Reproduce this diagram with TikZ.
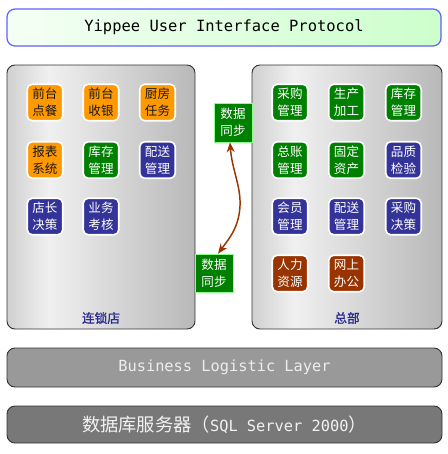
\documentclass[tikz,border=0pt]{standalone}
\usepackage{fontspec}
\usetikzlibrary{arrows.meta}
\newfontfamily\cjk{Noto Sans CJK SC}
\newfontfamily\cjkb[FakeBold=1.2]{Noto Sans CJK SC}
\newfontfamily\monof{DejaVu Sans Mono}
\definecolor{torange}{HTML}{FF9900}
\definecolor{tgreen}{HTML}{008000}
\definecolor{tblue}{HTML}{333399}
\definecolor{tbrown}{HTML}{993300}
\definecolor{pA}{HTML}{D0D0D0}
\definecolor{pB}{HTML}{F0F0F0}
\definecolor{pC}{HTML}{B8B8B8}
\definecolor{titleborder}{HTML}{6060FF}
\definecolor{labelblue}{HTML}{2B2B8F}
\pgfdeclarehorizontalshading{panelshade}{100bp}{color(0bp)=(pA); color(25bp)=(pA); color(36bp)=(pB); color(75bp)=(pC); color(100bp)=(pC)}
\tikzset{
  tile/.style={draw=white, line width=1.2pt, rounded corners=3.75pt,
    minimum width=26.6pt, minimum height=27.4pt, inner sep=0pt, align=center,
    font=\cjk\fontsize{9.4pt}{12.75pt}\selectfont},
  otile/.style={tile, fill=torange, text=black!90},
  gtile/.style={tile, fill=tgreen, text=white},
  btile/.style={tile, fill=tblue, text=white},
  rtile/.style={tile, fill=tbrown, text=white},
  panel/.style={draw=black!80, line width=0.7pt, rounded corners=6pt,
    shading=panelshade, minimum height=198pt, inner sep=0pt},
  panellabel/.style={text=labelblue, font=\cjkb\fontsize{9.5pt}{11pt}\selectfont, inner sep=0pt},
  layerbox/.style={draw=black!80, line width=0.7pt, rounded corners=6pt,
    minimum width=326.25pt, inner sep=0pt},
  syncbox/.style={fill=tgreen, draw=green!45!white, line width=0.4pt, text=white,
    minimum width=28.5pt, inner sep=0pt, align=center,
    font=\cjk\fontsize{9.4pt}{12.75pt}\selectfont},
  syncarrow/.style={draw=tbrown, line width=1.1pt,
    {Stealth[length=7.5pt, width=6pt]}-{Stealth[length=7.5pt, width=6pt]}}
}
\begin{document}
\begin{tikzpicture}[x=0.75pt, y=-0.75pt]
\useasboundingbox (0,0) rectangle (447,454);
% title
\node[draw=titleborder, line width=0.9pt, rounded corners=6pt,
  left color=green!4!white, right color=green!20!white,
  minimum width=325.5pt, minimum height=27.75pt, inner sep=0pt,
  font=\monof\fontsize{11.6pt}{13pt}\selectfont] (title) at (224,27.5)
  {Yippee User Interface Protocol};
% panels
\node[panel, minimum width=141pt] (store) at (101,197) {};
\node[panel, minimum width=142.5pt] (hq) at (347,197) {};
\node[panellabel] (storelabel) at (101,318) {连锁店};
\node[panellabel] (hqlabel) at (347,318) {总部};
% left tiles
\node[otile] (l11) at (45,102.5) {前台\\点餐};
\node[otile] (l12) at (101,102.5) {前台\\收银};
\node[otile] (l13) at (157.5,102.5) {厨房\\任务};
\node[otile] (l21) at (45,160) {报表\\系统};
\node[gtile] (l22) at (101,160) {库存\\管理};
\node[btile] (l23) at (157.5,160) {配送\\管理};
\node[btile] (l31) at (45,216.5) {店长\\决策};
\node[btile] (l32) at (101,216.5) {业务\\考核};
% right tiles
\node[gtile] (r11) at (290,102.5) {采购\\管理};
\node[gtile] (r12) at (346.5,102.5) {生产\\加工};
\node[gtile] (r13) at (403.5,102.5) {库存\\管理};
\node[gtile] (r21) at (290,160) {总账\\管理};
\node[gtile] (r22) at (346.5,160) {固定\\资产};
\node[btile] (r23) at (403.5,160) {品质\\检验};
\node[btile] (r31) at (290,216.5) {会员\\管理};
\node[btile] (r32) at (346.5,216.5) {配送\\管理};
\node[btile] (r33) at (403.5,216.5) {采购\\决策};
\node[rtile] (r41) at (290,273.5) {人力\\资源};
\node[rtile] (r42) at (346.5,273.5) {网上\\办公};
% sync boxes
\node[syncbox, minimum height=29.25pt] (s1) at (233,122.5) {数据\\同步};
\node[syncbox, minimum height=28.5pt] (s2) at (214,273) {数据\\同步};
\coordinate (mid) at (240,206);
\draw[syncarrow] ([xshift=-2.25pt]s1.south) .. controls (232,170) and (241,186) .. (mid)
  .. controls (239,228) and (228,240) .. ([xshift=3pt]s2.north);
% layers
\node[layerbox, fill=black!40, minimum height=29.25pt, text=white!93!black,
  font=\monof\fontsize{11.5pt}{13pt}\selectfont] (bll) at (224.5,367.5)
  {Business Logistic Layer};
\node[layerbox, fill=black!53, minimum height=27.75pt, text=white!95!black] (db) at (224.5,424.5)
  {{\cjk\fontsize{13.7pt}{15pt}\selectfont 数据库服务器（}{\monof\fontsize{11.5pt}{13pt}\selectfont SQL Server 2000}{\cjk\fontsize{13.7pt}{15pt}\selectfont ）}};
\end{tikzpicture}
\end{document}
